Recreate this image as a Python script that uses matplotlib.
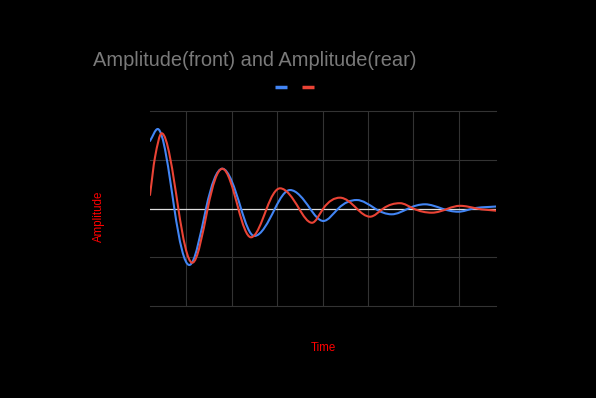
import matplotlib
matplotlib.use("Agg")
import matplotlib.pyplot as plt
import numpy as np
from matplotlib.path import Path
from matplotlib.patches import PathPatch
from matplotlib.lines import Line2D

TITLE = "Amplitude(front) and Amplitude(rear)"
X_LABEL = "Time"
Y_LABEL = "Amplitude"

# values (extrema and zero crossings)
front_t = [0.200, 0.370, 0.736, 1.066, 1.434, 1.793, 2.205, 2.498, 2.954, 3.284,
           3.725, 4.018, 4.348, 4.753, 5.156, 5.524, 5.890, 6.258, 6.626, 6.991,
           7.322, 7.822]
front_amp = [1.385, 1.631, 0.0, -1.159, 0.0, 0.816, 0.0, -0.564, 0.0, 0.379,
             0.0, -0.256, 0.0, 0.174, 0.0, -0.119, 0.0, 0.086, 0.0, -0.066,
             0.0, 0.041]

rear_t = [0.200, 0.311, 0.458, 0.824, 1.132, 1.471, 1.793, 2.145, 2.425, 2.771,
          3.064, 3.482, 3.769, 4.018, 4.385, 4.753, 5.046, 5.339, 5.707, 6.000,
          6.410, 6.771, 7.029, 7.396, 7.822]
rear_amp = [0.277, 1.056, 1.543, 0.0, -1.112, 0.0, 0.816, 0.0, -0.591, 0.0,
            0.414, 0.0, -0.293, 0.0, 0.222, 0.0, -0.168, 0.0, 0.109, 0.0,
            -0.086, 0.0, 0.055, 0.0, -0.045]

x_grid = [1, 2, 3, 4, 5, 6, 7]
y_grid = [-2, -1, 1, 2]

BLUE = "#4285f4"
RED = "#ea4335"


def slopes(xs, ys):
    n = len(xs)
    m = np.zeros(n)
    m[0] = (ys[1] - ys[0]) / (xs[1] - xs[0])
    m[-1] = (ys[-1] - ys[-2]) / (xs[-1] - xs[-2])
    for i in range(1, n - 1):
        a, b, c = ys[i - 1], ys[i], ys[i + 1]
        if (b - a) * (c - b) <= 0:  # local extremum -> flat
            continue
        m[i] = (c - a) / (xs[i + 1] - xs[i - 1])
        if a * c < 0:  # zero crossing between a peak and a trough
            m[i] *= np.pi / 2
    return m


def smooth_path(xs, ys):
    # cubic hermite through the points, written as beziers
    m = slopes(xs, ys)
    verts = [(xs[0], ys[0])]
    codes = [Path.MOVETO]
    for i in range(len(xs) - 1):
        h = xs[i + 1] - xs[i]
        verts += [(xs[i] + h / 3, ys[i] + m[i] * h / 3),
                  (xs[i + 1] - h / 3, ys[i + 1] - m[i + 1] * h / 3),
                  (xs[i + 1], ys[i + 1])]
        codes += [Path.CURVE4] * 3
    return Path(verts, codes)


plt.rcParams["font.family"] = ["Liberation Sans", "DejaVu Sans"]

fig = plt.figure(figsize=(5.96, 3.98), dpi=100, facecolor="black")
ax = fig.add_axes([150 / 596, 92 / 398, 346 / 596, 195 / 398], facecolor="black")

for x in x_grid:
    ax.axvline(x, color="#333333", lw=0.8, zorder=1)
for y in y_grid:
    ax.axhline(y, color="#333333", lw=0.8, zorder=1, clip_on=False)
ax.axhline(0, color="#dddddd", lw=0.9, zorder=2)

for t, a, c in [(front_t, front_amp, BLUE), (rear_t, rear_amp, RED)]:
    ax.add_patch(PathPatch(smooth_path(t, a), fill=False, edgecolor=c, lw=1.5,
                           zorder=3, capstyle="round", joinstyle="round"))

ax.set_xlim(front_t[0], front_t[-1])
ax.set_ylim(-2, 2)
ax.set_xticks([])
ax.set_yticks([])
for s in ax.spines.values():
    s.set_visible(False)

fig.text(93 / 596, 1 - 66 / 398, TITLE, color="#7a7a7a", fontsize=14.4,
         ha="left", va="baseline")
fig.text(99 / 596, 1 - 216 / 398, Y_LABEL, color="red", fontsize=8.3,
         rotation=90, ha="center", va="center")
fig.text(323 / 596, 1 - 348 / 398, X_LABEL, color="red", fontsize=8.3,
         ha="center", va="center")

handles = [Line2D([], [], color=BLUE, lw=2.5, solid_capstyle="butt"),
           Line2D([], [], color=RED, lw=2.5, solid_capstyle="butt")]
fig.legend(handles, ["", ""], loc="center", bbox_to_anchor=(294.5 / 596, 1 - 87.7 / 398),
           ncol=2, frameon=False, fontsize=8, handlelength=1.12, handletextpad=0,
           columnspacing=1.35, borderpad=0, borderaxespad=0)

fig.savefig("out.png", dpi=100, facecolor="black")
